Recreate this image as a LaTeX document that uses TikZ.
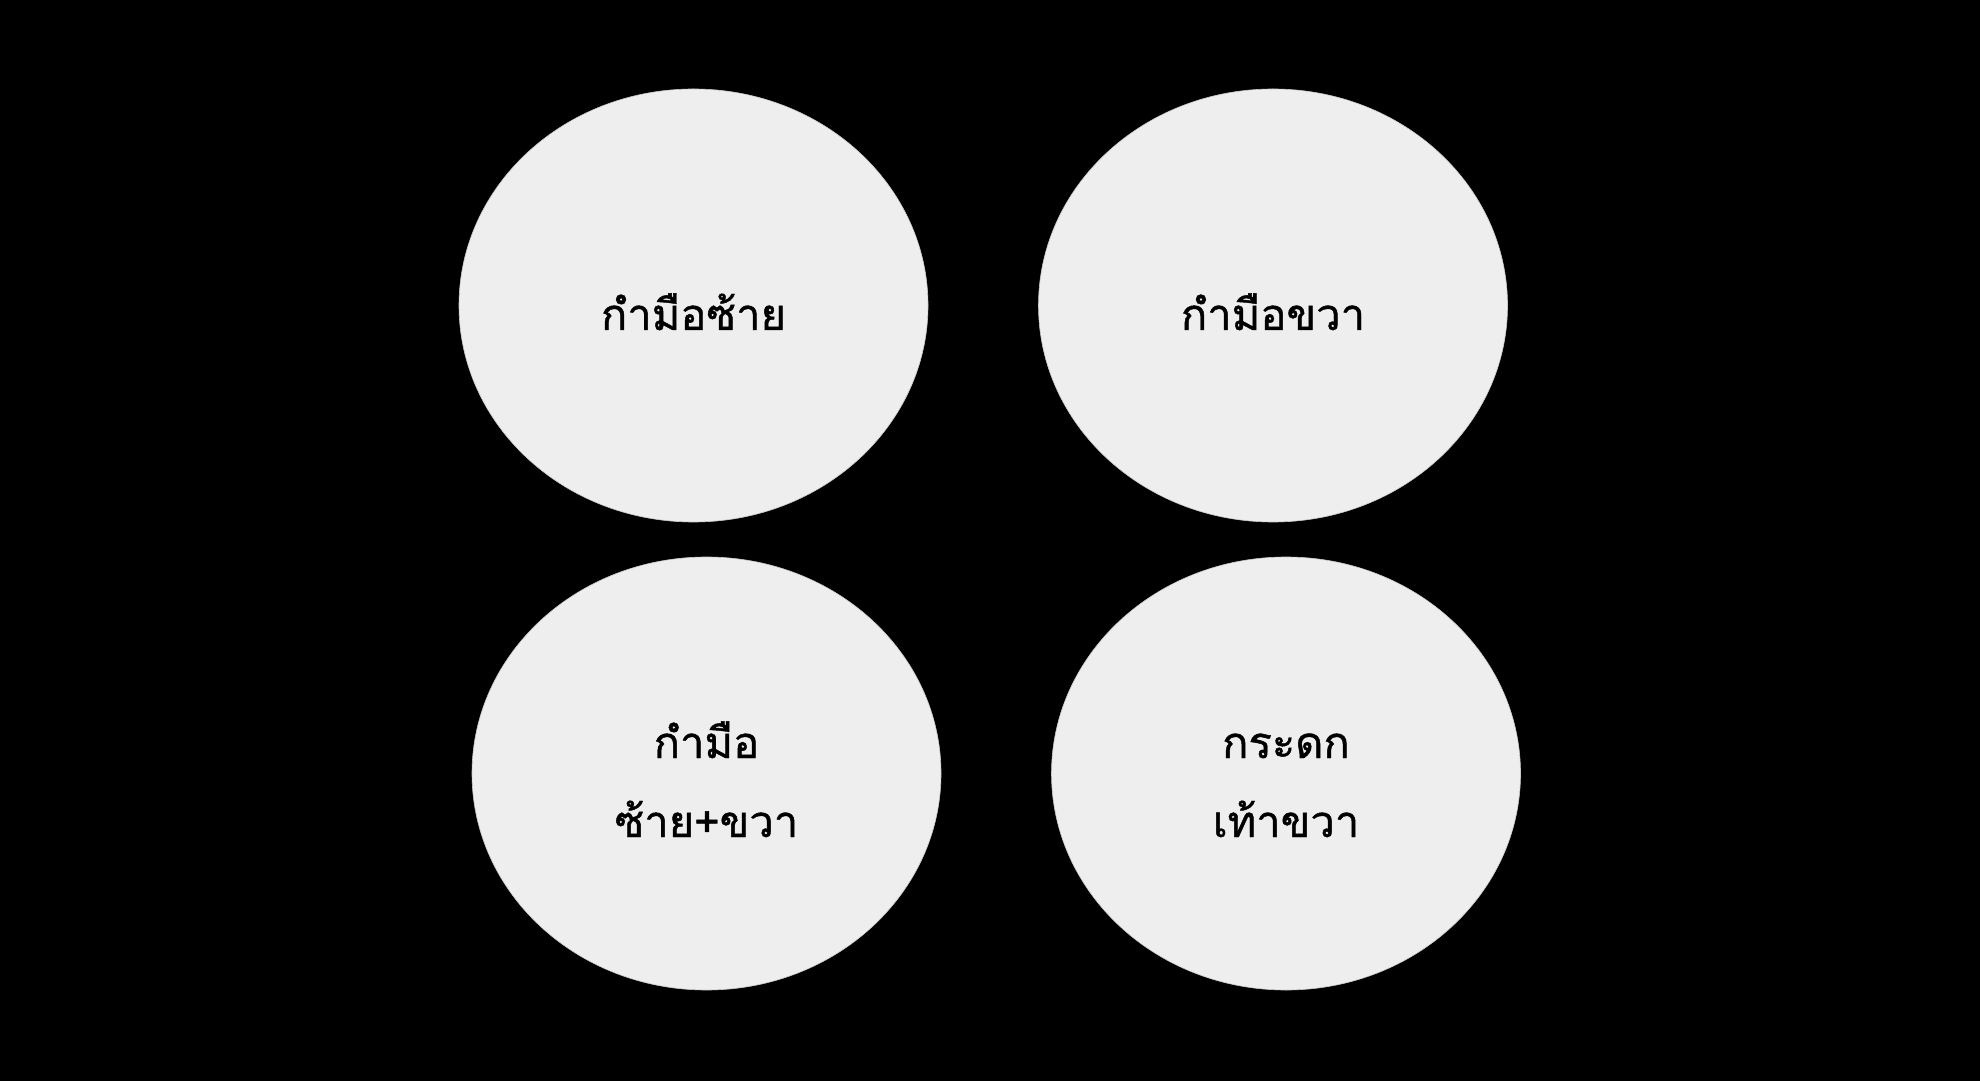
\documentclass[tikz,border=0pt]{standalone}
\usepackage{fontspec}
\newfontfamily\thaifont[Script=Thai,FakeBold=1.0]{Loma}
\usetikzlibrary{shapes.geometric}
\definecolor{bubble}{HTML}{EEEEEE}
\tikzset{
  bubble/.style={ellipse, fill=bubble, draw=bubble!85!black, line width=0.6pt, inner sep=0pt, minimum width=469pt, minimum height=433pt},
  lbl/.style={font=\thaifont\fontsize{43.5}{50}\selectfont, text=black, anchor=base, inner sep=0pt}
}
\begin{document}
\begin{tikzpicture}[x=1pt,y=1pt]
\useasboundingbox (0,0) rectangle (1980,1080);
\fill[black] (-5,-5) rectangle (1985,1085);
\node[bubble] (lh) at (693.5,774.5) {};
\node[bubble] (rh) at (1273,774.5) {};
\node[bubble] (bh) at (706.5,306.5) {};
\node[bubble] (rf) at (1286,306.5) {};
\node[lbl] (tlh) at ([yshift=-24.5pt]lh.center) {กำมือซ้าย};
\node[lbl] (trh) at ([yshift=-24.5pt]rh.center) {กำมือขวา};
\node[lbl] (tbh1) at ([yshift=15.5pt]bh.center) {กำมือ};
\node[lbl] (tbh2) at ([yshift=-63.5pt]bh.center) {ซ้าย+ขวา};
\node[lbl] (trf1) at ([yshift=15.5pt]rf.center) {กระดก};
\node[lbl] (trf2) at ([yshift=-63.5pt]rf.center) {เท้าขวา};
\end{tikzpicture}
\end{document}
